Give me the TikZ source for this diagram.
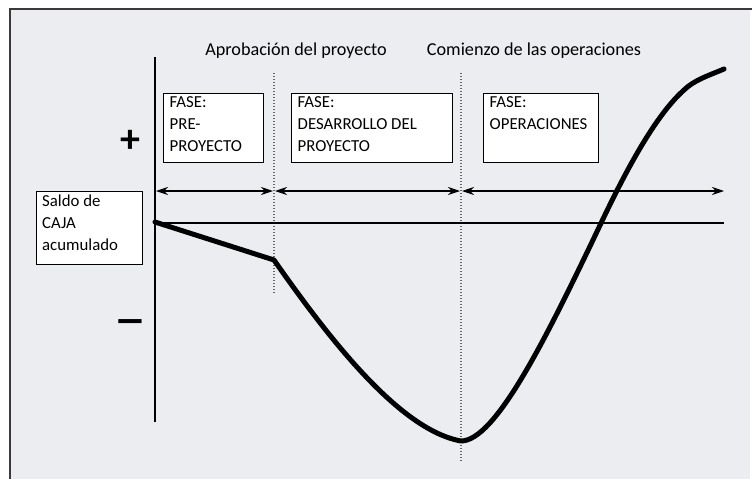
\documentclass[tikz,border=0pt]{standalone}
\usepackage{fontspec}
\setmainfont{Carlito}
\usetikzlibrary{arrows.meta}
\definecolor{bg}{HTML}{ECEDF0}
\definecolor{frame}{HTML}{3A3A3A}
\tikzset{
  x=1pt, y=-1pt,
  phasebox/.style={draw=black, fill=white, line width=1.2pt, anchor=north west, inner sep=0pt},
  boxtxt/.style={anchor=north west, inner sep=0pt, align=left, font=\fontsize{16.8}{22}\selectfont},
  toplbl/.style={inner sep=0pt, font=\fontsize{18.2}{20}\selectfont},
  sign/.style={inner sep=0pt, font=\fontsize{40}{40}\bfseries\selectfont},
  dim/.style={line width=1.1pt, {Stealth[length=12pt,width=8pt]}-{Stealth[length=12pt,width=8pt]}},
  milestone/.style={draw=gray!80!black, line width=1.2pt, dash pattern=on 1.2pt off 1.8pt},
  cashcurve/.style={line width=5pt, line join=round, line cap=round},
}
\begin{document}
\begin{tikzpicture}
\useasboundingbox (0,0) rectangle (752,479);
% background panel
\fill[bg] (10,8) rectangle (750,479);
\draw[frame, line width=2pt] (10,479) -- (10,8.5) -- (752,8.5);

% milestones
\coordinate (m1t) at (274,73);
\coordinate (m1b) at (274,293);
\coordinate (m2t) at (461,73);
\coordinate (m2b) at (461,462);
\draw[milestone] (m1t) -- (m1b);
\draw[milestone] (m2t) -- (m2b);

% axis
\coordinate (axt) at (155,57);
\coordinate (axb) at (155,422);
\draw[line width=2pt] (axt) -- (axb);

% zero line
\coordinate (z0) at (155,223);
\coordinate (z1) at (724,223);
\draw[line width=1.2pt] (z0) -- (z1);

% phase arrows
\coordinate (a0) at (156,191);
\coordinate (a1) at (274,191);
\coordinate (a2) at (461,191);
\coordinate (a3) at (724,191);
\draw[dim] (a0) -- ([xshift=-1pt]a1);
\draw[dim] ([xshift=1pt]a1) -- ([xshift=-1pt]a2);
\draw[dim] ([xshift=1pt]a2) -- (a3);

% top labels
\node[toplbl] (lab1) at (296,51) {Aprobación del proyecto};
\node[toplbl] (lab2) at (534,51) {Comienzo de las operaciones};

% phase boxes
\node[phasebox, minimum width=100pt, minimum height=69pt] (b1) at (163,93) {};
\node[boxtxt] (t1) at ([xshift=6.5pt,yshift=-3pt]b1.north west) {FASE:\\PRE-\\PROYECTO};
\node[phasebox, minimum width=161pt, minimum height=69pt] (b2) at (291,93) {};
\node[boxtxt] (t2) at ([xshift=6.5pt,yshift=-3pt]b2.north west) {FASE:\\DESARROLLO DEL\\PROYECTO};
\node[phasebox, minimum width=115pt, minimum height=69pt] (b3) at (483,93) {};
\node[boxtxt] (t3) at ([xshift=6.5pt,yshift=-3pt]b3.north west) {FASE:\\OPERACIONES};

% saldo box
\node[phasebox, minimum width=106pt, minimum height=73pt] (sb) at (36,191) {};
\node[boxtxt] (st) at ([xshift=6pt,yshift=-4pt]sb.north west) {Saldo de\\CAJA\\acumulado};

% signs
\node[sign] (plus) at (130,141) {+};
\node[sign] (minus) at (130,328) {\scalebox{1.5}[1.1]{\symbol{"2212}}};

% cash curve
\draw[cashcurve] (155,222) -- (274,260)
  .. controls (330,340) and (400,430) .. (461,441)
  .. controls (495,441) and (545,340) .. (593,240)
  .. controls (612,200) and (648,122) .. (684,90)
  .. controls (694,80) and (710,75) .. (724,69);
\end{tikzpicture}
\end{document}
